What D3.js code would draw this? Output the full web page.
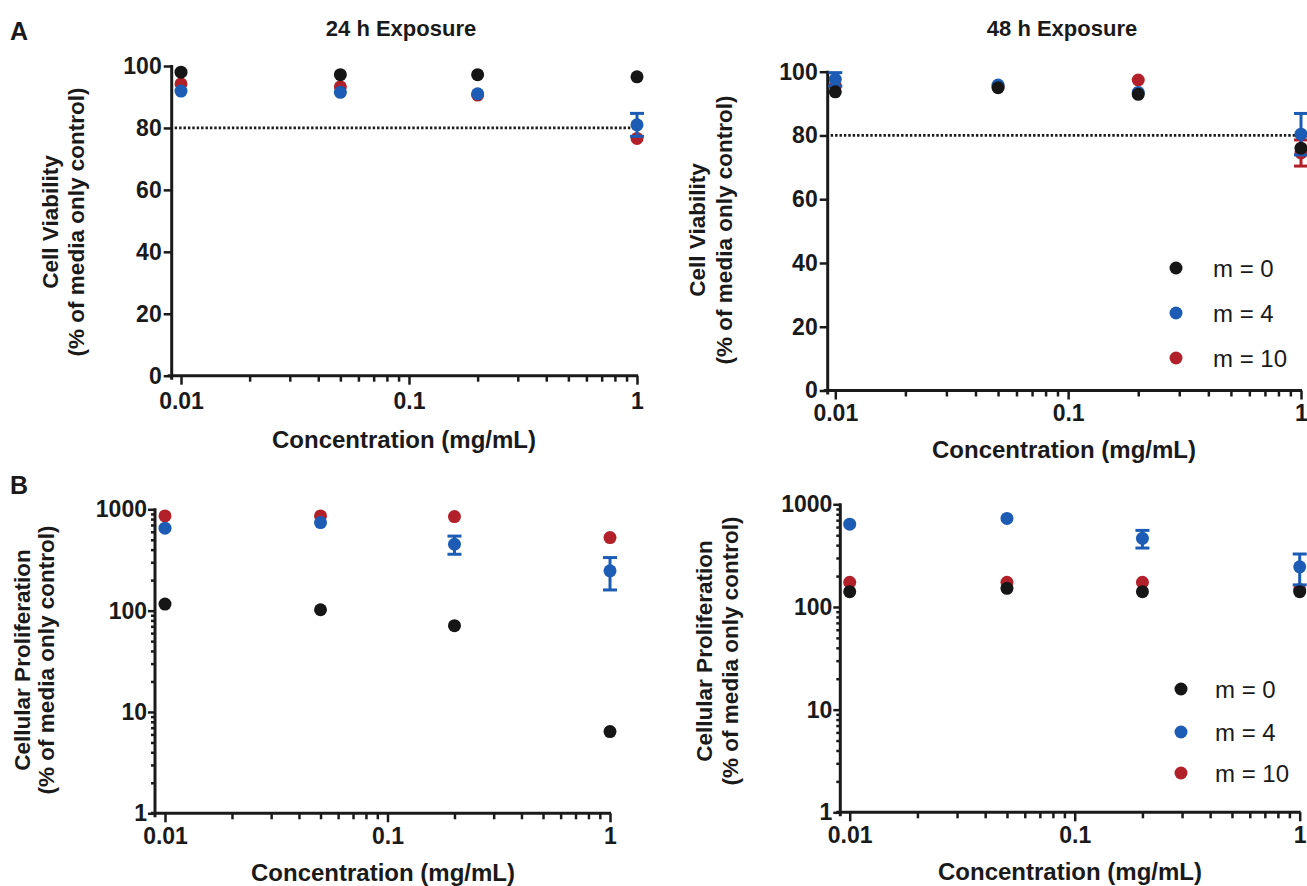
<!DOCTYPE html>
<html>
<head>
<meta charset="utf-8">
<script src="https://cdn.jsdelivr.net/npm/d3@7"></script>
<style>
  body { margin: 0; background: #fff; }
  svg { display: block; font-family: "Liberation Sans", Arial, sans-serif; }
</style>
</head>
<body>
<svg id="fig" width="1307" height="886"></svg>
<script>
// concentrations (mg/mL) and series
const conc = [0.01, 0.05, 0.2, 1];
const seriesNames = ["m = 0", "m = 4", "m = 10"];

// A: cell viability, 24 h
const via24_m0 = [98.0, 97.2, 97.2, 96.5];
const via24_m0_err = [0.5, 0.5, 0.5, 0.5];
const via24_m4 = [91.9, 91.5, 91.0, 81.0];
const via24_m4_err = [0.8, 0.7, 0.6, 3.7];
const via24_m10 = [94.2, 93.3, 90.6, 76.6];
const via24_m10_err = [0.8, 0.8, 0.7, 1.2];

// A: cell viability, 48 h
const via48_m0 = [93.7, 95.0, 92.9, 76.0];
const via48_m0_err = [0.8, 0.6, 0.6, 1.8];
const via48_m4 = [97.6, 95.8, 93.5, 80.4];
const via48_m4_err = [2.1, 0.6, 0.6, 6.5];
const via48_m10 = [95.5, 95.2, 97.4, 74.5];
const via48_m10_err = [0.8, 0.6, 0.6, 4.1];

// B: cellular proliferation, 24 h
const pro24_m0 = [116, 102, 71, 6.4];
const pro24_m0_err = [4, 4, 3, 0.3];
const pro24_m4 = [651, 739, 452, 247];
const pro24_m4_err = [20, 20, 92, 87];
const pro24_m10 = [861, 861, 847, 526];
const pro24_m10_err = [20, 20, 20, 15];

// B: cellular proliferation, 48 h
const pro48_m0 = [141, 152, 141, 141];
const pro48_m0_err = [4, 4, 4, 4];
const pro48_m4 = [641, 729, 466, 246];
const pro48_m4_err = [20, 20, 91, 82];
const pro48_m10 = [174, 174, 174, 148];
const pro48_m10_err = [5, 5, 5, 5];

// ticks
const xTicks = [0.01, 0.1, 1];
const xTickText = ["0.01", "0.1", "1"];
const linTicks = [0, 20, 40, 60, 80, 100];
const logTicks = [1, 10, 100, 1000];
const logTickText = ["1", "10", "100", "1000"];
const threshold = 80;

const colors = ["#161616", "#1c5cb4", "#b2212a"];
const ink = "#1a1a1a";
const r = 6.5;

const svg = d3.select("#fig");

const panels = [
  { ax: 171.7, x0: 181, x1: 637, yt: 66, yb: 375.7, log: false, pad: 8,
    data: [via24_m0, via24_m4, via24_m10], err: [via24_m0_err, via24_m4_err, via24_m10_err],
    title: "24 h Exposure", titleX: 401, ytitle: ["Cell Viability", "(% of media only control)"],
    yl: [50, 76, 222], xt: [404, 448], legend: null },
  { ax: 827.7, x0: 835.3, x1: 1301, yt: 71.7, yb: 390.5, log: false, pad: 5,
    data: [via48_m0, via48_m4, via48_m10], err: [via48_m0_err, via48_m4_err, via48_m10_err],
    title: "48 h Exposure", titleX: 1062, ytitle: ["Cell Viability", "(% of media only control)"],
    yl: [697, 724, 230], xt: [1064, 458], legend: [1176, 1213, [268, 313, 358]] },
  { ax: 155, x0: 165, x1: 610, yt: 509.3, yb: 813.3, log: true, pad: 5,
    data: [pro24_m0, pro24_m4, pro24_m10], err: [pro24_m0_err, pro24_m4_err, pro24_m10_err],
    title: null, ytitle: ["Cellular Proliferation", "(% of media only control)"],
    yl: [22, 46, 660], xt: [383, 881], legend: null },
  { ax: 840.3, x0: 849.7, x1: 1299.7, yt: 504.3, yb: 812.3, log: true, pad: 5,
    data: [pro48_m0, pro48_m4, pro48_m10], err: [pro48_m0_err, pro48_m4_err, pro48_m10_err],
    title: null, ytitle: ["Cellular Proliferation", "(% of media only control)"],
    yl: [704, 730, 651], xt: [1070, 880], legend: [1181, 1215, [689, 732, 773]] }
];

function styleAxis(sel) {
  sel.selectAll("line").attr("stroke", ink).attr("stroke-width", 2.5);
  sel.selectAll("text").attr("fill", ink).style("font-weight", "bold").style("font-size", "23px");
}

function drawPanel(p) {
  const g = svg.append("g");

  const x = d3.scaleLog().domain([0.01, 1]).range([p.x0, p.x1]);
  x.domain([x.invert(p.ax), 1]).range([p.ax, p.x1]);

  const y = p.log
    ? d3.scaleLog().domain([1, 1000]).range([p.yb, p.yt])
    : d3.scaleLinear().domain([0, 100]).range([p.yb, p.yt]);

  // minor x ticks
  const xMinor = [];
  [0.01, 0.1].forEach(d => { for (let k = 2; k <= 9; k++) xMinor.push(k * d); });
  g.append("g")
    .attr("transform", `translate(0,${p.yb})`)
    .call(d3.axisBottom(x).tickValues(xMinor).tickSize(6).tickFormat(""))
    .call(s => s.select(".domain").remove())
    .call(styleAxis);

  g.append("g")
    .attr("transform", `translate(0,${p.yb})`)
    .call(d3.axisBottom(x).tickValues(xTicks).tickSize(9).tickPadding(p.pad)
      .tickFormat((d, i) => xTickText[i]))
    .call(s => s.select(".domain").remove())
    .call(styleAxis);

  if (p.log) {
    const yMinor = [];
    [1, 10, 100].forEach(d => { for (let k = 2; k <= 9; k++) yMinor.push(k * d); });
    g.append("g")
      .attr("transform", `translate(${p.ax},0)`)
      .call(d3.axisLeft(y).tickValues(yMinor).tickSize(4).tickFormat(""))
      .call(s => s.select(".domain").remove())
      .call(styleAxis);
    g.append("g")
      .attr("transform", `translate(${p.ax},0)`)
      .call(d3.axisLeft(y).tickValues(logTicks).tickSize(7).tickPadding(1)
        .tickFormat((d, i) => logTickText[i]))
      .call(s => s.select(".domain").remove())
      .call(styleAxis);
  } else {
    g.append("g")
      .attr("transform", `translate(${p.ax},0)`)
      .call(d3.axisLeft(y).tickValues(linTicks).tickSize(8).tickPadding(2))
      .call(s => s.select(".domain").remove())
      .call(styleAxis);
  }

  // axis lines
  g.append("line").attr("x1", p.ax - 4).attr("x2", p.x1 + 1)
    .attr("y1", p.yb).attr("y2", p.yb)
    .attr("stroke", ink).attr("stroke-width", 3);
  g.append("line").attr("x1", p.ax).attr("x2", p.ax)
    .attr("y1", p.yt - 1).attr("y2", p.yb + 4)
    .attr("stroke", ink).attr("stroke-width", 3);

  // 80% threshold
  if (!p.log) {
    g.append("line")
      .attr("x1", p.ax + 3).attr("x2", x(1))
      .attr("y1", y(threshold)).attr("y2", y(threshold))
      .attr("stroke", ink).attr("stroke-width", 2.8)
      .attr("stroke-dasharray", "2.4,2");
  }

  // points: m=10 first, then m=4, then m=0 on top
  [2, 1, 0].forEach(si => {
    const vals = p.data[si], errs = p.err[si];
    const sg = g.append("g");
    conc.forEach((c, i) => {
      const cx = x(c), v = vals[i], e = errs[i];
      const cy = y(v), yTop = y(v + e), yBot = y(v - e);
      sg.append("line").attr("x1", cx).attr("x2", cx).attr("y1", yTop).attr("y2", yBot)
        .attr("stroke", colors[si]).attr("stroke-width", 3);
      [yTop, yBot].forEach(yy => {
        if (Math.abs(yy - cy) < r) return; // cap hidden behind the marker
        sg.append("line").attr("x1", cx - 7).attr("x2", cx + 7).attr("y1", yy).attr("y2", yy)
          .attr("stroke", colors[si]).attr("stroke-width", 3);
      });
    });
    sg.selectAll("circle")
      .data(conc)
      .enter()
      .append("circle")
      .attr("cx", d => x(d))
      .attr("cy", (d, i) => y(vals[i]))
      .attr("r", r)
      .attr("fill", colors[si]);
  });

  // titles
  if (p.title) {
    svg.append("text").attr("x", p.titleX).attr("y", 36)
      .attr("text-anchor", "middle").attr("fill", ink)
      .style("font-weight", "bold").style("font-size", "22px")
      .text(p.title);
  }
  svg.append("text").attr("x", p.xt[0]).attr("y", p.xt[1])
    .attr("text-anchor", "middle").attr("fill", ink)
    .style("font-weight", "bold").style("font-size", "24px")
    .text("Concentration (mg/mL)");

  p.ytitle.forEach((t, k) => {
    svg.append("text")
      .attr("transform", `translate(${p.yl[k]},${p.yl[2]}) rotate(-90)`)
      .attr("dy", "0.35em")
      .attr("text-anchor", "middle").attr("fill", ink)
      .style("font-weight", "bold").style("font-size", "22.5px")
      .text(t);
  });

  // legend
  if (p.legend) {
    seriesNames.forEach((name, i) => {
      svg.append("circle").attr("cx", p.legend[0]).attr("cy", p.legend[2][i])
        .attr("r", r).attr("fill", colors[i]);
      svg.append("text").attr("x", p.legend[1]).attr("y", p.legend[2][i])
        .attr("dy", "0.36em").attr("fill", ink)
        .style("font-size", "24px")
        .text(name);
    });
  }
}

panels.forEach(drawPanel);

// panel letters
svg.append("text").attr("x", 10).attr("y", 40).attr("fill", ink)
  .style("font-weight", "bold").style("font-size", "25px").text("A");
svg.append("text").attr("x", 10).attr("y", 494).attr("fill", ink)
  .style("font-weight", "bold").style("font-size", "25px").text("B");
</script>
</body>
</html>
